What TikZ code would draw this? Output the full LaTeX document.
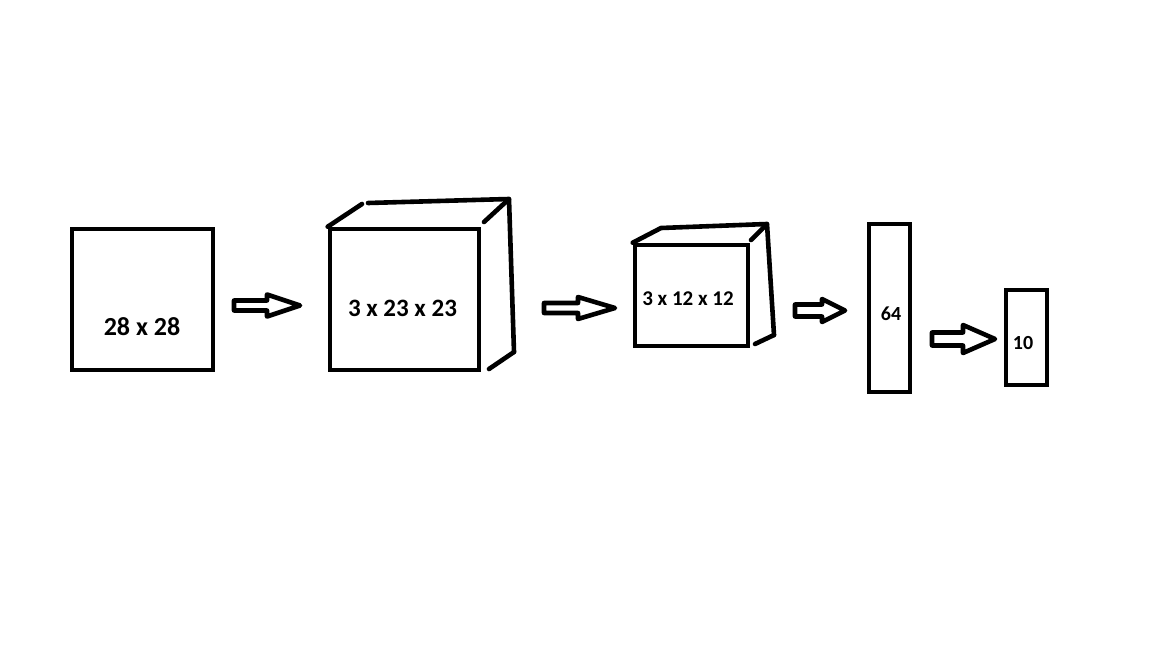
\documentclass[tikz,border=0pt]{standalone}
\usepackage{fontspec}
\setmainfont{Carlito}
\begin{document}
\begin{tikzpicture}[x=1pt,y=-1pt,
  stroke/.style={line width=4.6pt},
  layer/.style={draw, stroke, rectangle, inner sep=0pt, line join=miter},
  edge/.style={stroke, line cap=round, line join=round},
  dim/.style={font=\bfseries\fontsize{#1}{#1}\selectfont, inner sep=0pt},
  pics/blockarrow/.style args={#1/#2/#3/#4}{code={
    \draw[stroke, line join=round]
      (0,-#2) -- (#3,-#2) -- (#3,-#4) -- (#1,0) -- (#3,#4) -- (#3,#2) -- (0,#2) -- cycle;
  }}]
\useasboundingbox (0,0) rectangle (1152,648);

% input image
\node[layer, minimum width=141pt, minimum height=141pt] (in) at (142.5,299.5) {};
\node[dim=26pt] (inlbl) at (142,326.5) {28 x 28};

% first convolution volume
\node[layer, minimum width=149pt, minimum height=141pt] (c1) at (404.5,299.5) {};
\node[dim=25pt] (c1lbl) at (402.5,308) {3 x 23 x 23};
\coordinate (c1a) at (362,204);
\coordinate (c1b) at (368,203);
\coordinate (c1c) at (509,199);
\coordinate (c1d) at (484,222);
\coordinate (c1e) at (514,352);
\coordinate (c1f) at (489,369);
\draw[edge] (c1.north west) -- (c1a);
\draw[edge] (c1b) -- (c1c);
\draw[edge] (c1d) -- (c1c) -- (c1e);
\draw[edge] (c1f) -- (c1e);

% pooled volume
\node[layer, minimum width=113pt, minimum height=101pt] (c2) at (691.5,295.5) {};
\node[dim=21pt] (c2lbl) at (688,299) {3 x 12 x 12};
\coordinate (c2a) at (661,228);
\coordinate (c2b) at (767,224);
\coordinate (c2c) at (751,240);
\coordinate (c2d) at (774,335);
\coordinate (c2e) at (755,344);
\draw[edge] (c2.north west) -- (c2a) -- (c2b);
\draw[edge] (c2c) -- (c2b) -- (c2d);
\draw[edge] (c2e) -- (c2d);

% dense layers
\node[layer, minimum width=41pt, minimum height=168pt] (fc) at (889.5,308) {};
\node[dim=20pt] (fclbl) at (891,313.5) {64};
\node[layer, minimum width=41pt, minimum height=95pt] (out) at (1026.5,337.5) {};
\node[dim=20pt] (outlbl) at (1023,343.5) {10};

% transitions
\pic (a1) at (234,305.5) {blockarrow=66/5/33/11};
\pic (a2) at (544,308) {blockarrow=71/5/34/11};
\pic (a3) at (795,310.5) {blockarrow=50/6/27/11.5};
\pic (a4) at (932,339) {blockarrow=63/6.5/31/14};
\end{tikzpicture}
\end{document}
